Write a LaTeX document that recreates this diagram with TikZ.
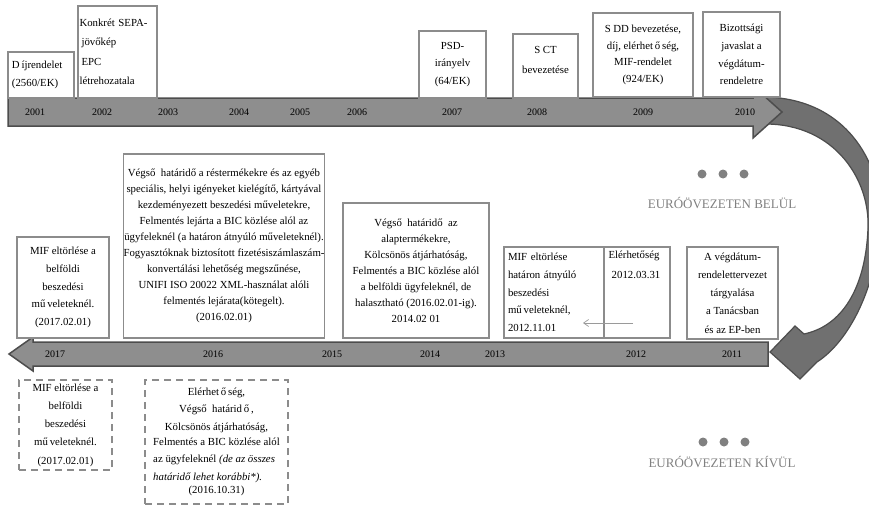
\documentclass[tikz,border=0pt]{standalone}
\usepackage{fontspec}
\setmainfont{Liberation Serif}
\usetikzlibrary{arrows.meta}
\definecolor{bandfill}{HTML}{8E8E8E}
\definecolor{bandline}{HTML}{4D4D4D}
\definecolor{curvefill}{HTML}{707070}
\definecolor{boxline}{HTML}{8C8C8C}
\definecolor{zonegray}{HTML}{808080}
\definecolor{thinarrow}{HTML}{9A9A9A}
\begin{document}
\begin{tikzpicture}[x=1pt,y=-1pt,
  band/.style={fill=bandfill,draw=bandline,line width=1.5pt,line join=miter},
  curved/.style={fill=curvefill,draw=bandline,line width=1.2pt,line join=miter},
  box/.style={draw=boxline,line width=1.8pt,fill=white,inner sep=0pt,align=center},
  dbox/.style={draw=boxline,line width=1.8pt,dash pattern=on 7pt off 5pt,fill=white,inner sep=0pt,align=center},
  yr/.style={font=\fontsize{10}{12}\selectfont,inner sep=0pt},
  fs/.style={font=\fontsize{10.8}{#1}\selectfont},
  plain/.style={inner sep=0pt,align=center},
  zone/.style={text=zonegray,font=\fontsize{13}{15}\selectfont,inner sep=0pt},
  dotmark/.style={circle,fill=zonegray,minimum size=9pt,inner sep=0pt}
]
\clip (0,0) rectangle (869,506);
\fill[white] (0,0) rectangle (869,506);

% curved connecting arrow
\path[curved] (762,97) .. controls (850,97) and (885,170) .. (880,225)
  .. controls (876,290) and (848,342) .. (817,362)
  -- (800,379) -- (770,352) -- (795,326) -- (804,334)
  .. controls (846,325) and (866,282) .. (868,228)
  .. controls (870,180) and (835,124) .. (765,124) -- cycle;

% top band (left to right)
\path[band] (8,98) -- (753,98) -- (753,86) -- (782,112) -- (753,138) -- (753,126) -- (8,126) -- cycle;
% bottom band (right to left)
\path[band] (768,342) -- (33,342) -- (33,337) -- (9,354) -- (33,371) -- (33,366) -- (768,366) -- cycle;

% years, top
\node[yr] (y2001) at (35,112) {2001};
\node[yr] (y2002) at (102,112) {2002};
\node[yr] (y2003) at (168,112) {2003};
\node[yr] (y2004) at (239,112) {2004};
\node[yr] (y2005) at (300,112) {2005};
\node[yr] (y2006) at (357,112) {2006};
\node[yr] (y2007) at (452,112) {2007};
\node[yr] (y2008) at (537,112) {2008};
\node[yr] (y2009) at (643,112) {2009};
\node[yr] (y2010) at (745,112) {2010};
% years, bottom
\node[yr] (y2017) at (55,354) {2017};
\node[yr] (y2016) at (213,354) {2016};
\node[yr] (y2015) at (332,354) {2015};
\node[yr] (y2014) at (430,354) {2014};
\node[yr] (y2013) at (495,354) {2013};
\node[yr] (y2012) at (636,354) {2012};
\node[yr] (y2011) at (732,354) {2011};

% top boxes
\node[box,fs=18,align=left,text width=58pt,inner xsep=4pt,minimum height=46pt] (dij) at (41,75)
  {D\,íjrendelet\\(2560/EK)};
\node[box,fs=19.5,align=left,text width=76pt,inner xsep=1.5pt,minimum height=92pt] (konk) at (117.5,52)
  {Konkrét SEPA-\\\hspace*{2pt}jövőkép\\\hspace*{2pt}EPC\\létrehozatala};
\node[box,fs=17.5,minimum width=67pt,minimum height=67pt] (psd) at (452.5,64.5)
  {PSD-\\irányelv\\(64/EK)};
\node[box,minimum width=65pt,minimum height=64pt] (sct) at (545.5,66) {};
\node[plain,fs=20] (scttxt) at (545.5,60) {S\hspace{2.5pt}CT\\bevezetése};
\node[box,fs=16.7,minimum width=100pt,minimum height=84pt] (sdd) at (643,55)
  {S\hspace{2.5pt}DD bevezetése,\\díj, elérhet\,ő\,ség,\\MIF-rendelet\\(924/EK)};
\node[box,fs=17.7,minimum width=77pt,minimum height=85pt] (biz) at (741.5,54.5)
  {Bizottsági\\javaslat a\\végdátum-\\rendeletre};

% middle boxes (inside the euro area)
\node[box,fs=17.8,minimum width=92pt,minimum height=101pt] (mif17) at (63,287.5)
  {MIF eltörlése a\\belföldi\\beszedési\\mű\,veleteknél.\\(2017.02.01)};
\node[box,fs=16,minimum width=200pt,minimum height=184pt] (big16) at (224,246)
  {Végső~ határidő a réstermékekre és az egyéb\\
   speciális, helyi igényeket kielégítő, kártyával\\
   kezdeményezett beszedési műveletekre,\\
   Felmentés lejárta a BIC közlése alól az\\
   ügyfeleknél (a határon átnyúló műveleteknél).\\
   Fogyasztóknak biztosított fizetésiszámlaszám-\\
   konvertálási lehetőség megszűnése,\\
   UNIFI ISO 20022 XML-használat alóli\\
   felmentés lejárata(kötegelt).\\
   (2016.02.01)};
\node[box,fs=16,minimum width=146pt,minimum height=135pt] (b14) at (416,270.5)
  {Végső~ határidő~ az\\alaptermékekre,\\Kölcsönös átjárhatóság,\\Felmentés a BIC közlése alól\\a belföldi ügyfeleknél, de\\halasztható (2016.02.01-ig).\\2014.02 01};
\node[box,fs=17.7,align=left,text width=92pt,inner xsep=4pt,minimum height=91pt] (mifh) at (554,292.5)
  {MIF eltörlése\\határon átnyúló\\beszedési\\mű\,veleteknél,\\2012.11.01};
\node[box,minimum width=66pt,minimum height=91pt] (elerh) at (637,292.5) {};
\node[plain,fs=20] (elerhtxt) at (634,265) {Elérhetőség\\\hspace*{4pt}2012.03.31};
\node[box,fs=18.2,minimum width=91pt,minimum height=92pt] (vegd) at (732.5,293)
  {A végdátum-\\rendelettervezet\\tárgyalása\\a Tanácsban\\és az EP-ben};

% thin arrow inside the 2012 box
\coordinate (arrS) at (633,323);
\coordinate (arrE) at (583,323);
\draw[thinarrow,line width=0.7pt,-{Straight Barb[length=5pt,width=7pt]}] (arrS) -- (arrE);

% dashed boxes (outside the euro area)
\node[dbox,fs=18.2,minimum width=93pt,minimum height=90pt] (dmif) at (65.5,425)
  {MIF eltörlése a\\belföldi\\beszedési\\mű\,veleteknél.\\(2017.02.01)};
\node[dbox,fs=17.3,minimum width=143pt,minimum height=124pt] (delerh) at (216.5,442)
  {Elérhet\,ő\,ség,\\Végső~ határid\,ő\,,\\Kölcsönös átjárhatóság,\\
   \begin{tabular}{@{}l@{}}Felmentés a BIC közlése alól\\az ügyfeleknél \textit{(de az összes}\\\textit{határidő lehet korábbi*).}\end{tabular}\\
   (2016.10.31)};

% zone labels
\node[dotmark] (d1) at (702,174) {};
\node[dotmark] (d2) at (723,174) {};
\node[dotmark] (d3) at (744,174) {};
\node[zone] (zin) at (722,203) {EURÓÖVEZETEN BELÜL};
\node[dotmark] (d4) at (703,442) {};
\node[dotmark] (d5) at (724,442) {};
\node[dotmark] (d6) at (745,442) {};
\node[zone] (zout) at (722,462) {EURÓÖVEZETEN KÍVÜL};
\end{tikzpicture}
\end{document}
